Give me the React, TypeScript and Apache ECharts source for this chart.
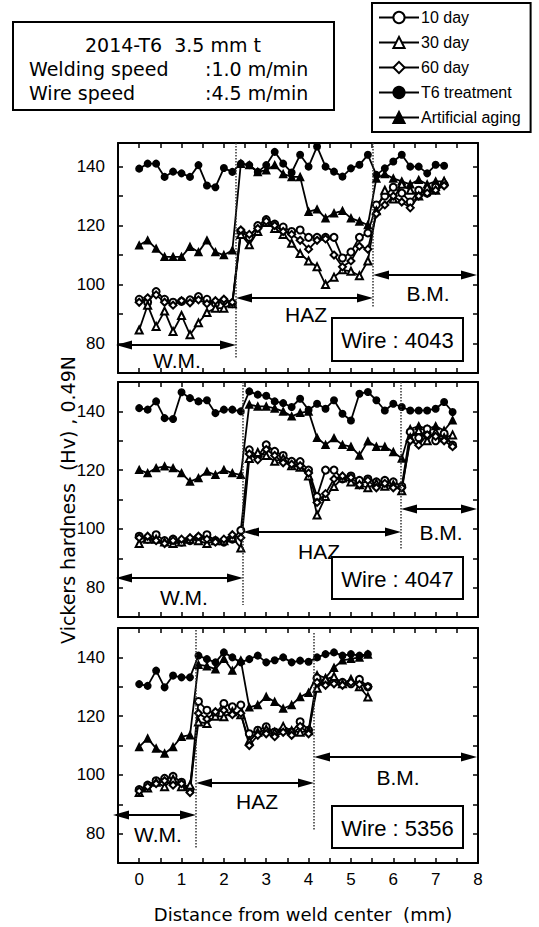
import React, { useEffect, useRef } from 'react';
import * as echarts from 'echarts';

// ---------- DATA ----------
const SERIES_NAMES = ['10 day', '30 day', '60 day', 'T6 treatment', 'Artificial aging'];
const SYMBOLS = ['emptyCircle', 'emptyTriangle', 'emptyDiamond', 'circle', 'triangle'];
const X_TICK_LABELS = ['0', '1', '2', '3', '4', '5', '6', '7', '8'];
const Y_TICK_LABELS = ['80', '100', '120', '140'];
const WIRES = ['Wire : 4043', 'Wire : 4047', 'Wire : 5356'];

// Distance from weld center (mm)
const DIST_P1 = [0, 0.2, 0.4, 0.6, 0.8, 1, 1.2, 1.4, 1.6, 1.8, 2, 2.2, 2.4, 2.6, 2.8, 3, 3.2, 3.4, 3.6, 3.8, 4, 4.2, 4.4, 4.6, 4.8, 5, 5.2, 5.4, 5.6, 5.8, 6, 6.2, 6.4, 6.6, 6.8, 7, 7.2];
const DIST_P2 = [0, 0.2, 0.4, 0.6, 0.8, 1, 1.2, 1.4, 1.6, 1.8, 2, 2.2, 2.4, 2.6, 2.8, 3, 3.2, 3.4, 3.6, 3.8, 4, 4.2, 4.4, 4.6, 4.8, 5, 5.2, 5.4, 5.6, 5.8, 6, 6.2, 6.4, 6.6, 6.8, 7, 7.2, 7.4];
const DIST_P3 = [0, 0.2, 0.4, 0.6, 0.8, 1, 1.2, 1.4, 1.6, 1.8, 2, 2.2, 2.4, 2.6, 2.8, 3, 3.2, 3.4, 3.6, 3.8, 4, 4.2, 4.4, 4.6, 4.8, 5, 5.2, 5.4];

// Wire 4043
const DAY10_P1 = [95, 94, 97.6, 95, 94, 94.3, 94.8, 95.9, 95, 93.5, 94.5, 93.5, 118, 116, 120, 122, 120.5, 119.5, 118, 118.5, 116, 116, 116, 116, 109, 111, 116, 117.5, 127, 130, 133, 131, 128, 132, 131, 133, 134];
const DAY30_P1 = [84.6, 93, 85.8, 91, 84.1, 89.5, 83, 87, 90.5, 92, 92, 93.5, 117, 113.5, 118, 121, 119, 117, 114, 110.5, 108, 106, 100, 102.5, 105, 104.5, 103, 108, 125, 132, 129, 134, 132, 130, 133, 132, 135];
const DAY60_P1 = [94, 95.5, 96.5, 94, 93, 94.5, 93.8, 94.8, 93.5, 94.5, 95, 94, 118.5, 117, 119, 121.5, 120, 118, 117, 115, 112, 115, 115.5, 110, 106, 108, 113, 112, 124, 127, 130, 128, 126, 130, 131, 132, 133.5];
const T6_P1 = [139.3, 141, 141, 136.5, 138.3, 137.7, 136.5, 140.5, 133.6, 133, 139.5, 138.2, 141, 140.5, 138.2, 140.5, 145, 141, 138, 144, 140, 146.8, 140, 138.3, 136.6, 139.4, 140.6, 144, 137.2, 139.4, 141.7, 144, 140, 140, 137.7, 140.6, 140.3];
const AGING_P1 = [113.3, 115, 112.2, 109.4, 109.4, 109.4, 112.8, 111, 115, 111, 110, 111.6, 141, 140.5, 138.2, 138.8, 140.5, 137.5, 136.5, 136.5, 124.7, 125.5, 122.5, 124.2, 125, 122.5, 121.4, 120.2, 136, 137.5, 136, 135, 134, 135.5, 134, 135, 135];

// Wire 4047
const DAY10_P2 = [97.5, 96.5, 98, 96, 96.5, 95.5, 96, 97, 98, 96, 95.5, 96.5, 99.5, 126.9, 124.7, 128.6, 126.4, 125, 123, 122.9, 120, 111, 120, 120, 117, 118, 116.5, 117, 116, 116.5, 116, 114.5, 133, 131, 134, 130, 132.5, 128.5];
const DAY30_P2 = [95, 96.5, 96.5, 95.5, 95, 95.5, 96.5, 96, 95, 96, 96, 97, 93.5, 124, 126, 125, 123, 124, 121.5, 121, 118, 104.7, 111, 114.4, 117.3, 116, 115, 114, 115.5, 114.5, 115, 113, 131, 133.5, 130, 133, 131, 132];
const DAY60_P2 = [97, 97.5, 96, 95, 96, 96.5, 97, 97.5, 96.5, 95.5, 96.5, 98, 97, 125.5, 123.5, 127, 125, 122.5, 122, 121.5, 119, 109, 112, 117, 118, 117.5, 115, 116.5, 114, 115.5, 114, 114, 130, 128.5, 132, 131.5, 130, 128];
const T6_P2 = [141.1, 140.6, 143.4, 137.7, 137.4, 146.5, 144.5, 143.4, 143.8, 139.4, 140.6, 140.6, 140, 146.8, 145.7, 145.3, 143.4, 142.8, 141.5, 144.3, 140.5, 142.6, 140.9, 143.8, 139.2, 136.9, 146, 146.6, 143.8, 140.3, 142.6, 141.5, 140.3, 140.3, 140.3, 140.9, 143.2, 139.8];
const AGING_P2 = [120.1, 119, 120.7, 121.3, 120.7, 119, 116.1, 117.3, 119.5, 118.4, 120.1, 119, 118.4, 142.3, 141.7, 141.7, 141, 140, 138.3, 139.5, 140, 131, 128.6, 130.9, 128.6, 128, 125, 129.8, 128, 128, 126.2, 124, 134, 135, 134, 135, 133.5, 137];

// Wire 5356
const DAY10_P3 = [95, 96.5, 98, 98.8, 99.5, 97.5, 95, 125, 122, 120.9, 124.3, 123.2, 123.8, 114, 115.2, 116.4, 114.6, 115.2, 114.6, 118.1, 115.2, 133, 131.5, 132, 131.5, 131, 132.5, 130];
const DAY30_P3 = [94, 95.5, 97.5, 96, 98.5, 96, 96.5, 118, 117.5, 120, 119.8, 121.5, 120.5, 111.5, 114.5, 115.5, 114.5, 116.5, 115, 114.5, 115, 129.5, 132.5, 133.5, 131, 132.5, 130, 126.5];
const DAY60_P3 = [94.5, 96, 97, 98, 96.5, 97, 94, 121, 119, 121.5, 122, 120.5, 121, 110, 113.5, 114, 113, 114.5, 113.5, 116.5, 114, 131.5, 130.5, 131, 130.5, 131.5, 130.8, 130];
const T6_P3 = [130.9, 130.3, 135.5, 129.8, 133.8, 133.2, 133.2, 140.6, 139.4, 138.3, 141.7, 140, 138.3, 139.4, 140.6, 138.3, 139, 140, 138.3, 138.9, 138.5, 140, 141.1, 141.7, 140.6, 141.1, 140.6, 141.1];
const AGING_P3 = [109.5, 112.4, 109, 107.3, 109.5, 113, 113.5, 137.5, 137, 136, 139.5, 135.5, 139, 123, 123.8, 126.6, 124.9, 122.6, 123.8, 126.5, 128, 134, 133, 136.5, 139, 139.5, 140, 141];

// ---------- LAYOUT ----------
const FONT = '"Liberation Sans", Arial, Helvetica, sans-serif';
const WIDE = '"DejaVu Sans", "Liberation Sans", Arial, sans-serif';
const GRID_LEFT = 118;
const GRID_W = 360;
const X_MIN = -0.5;
const X_MAX = 8;

const PANELS = [
  { top: 143, height: 230, min: 70, max: 148, dist: DIST_P1, values: [DAY10_P1, DAY30_P1, DAY60_P1, T6_P1, AGING_P1],
    bounds: [236, 373], dashEnd: [358, 308], dashStart: [143, 143],
    wm: { y: 345, x1: 116, x2: 236, lx: 177, ly: 360 },
    haz: { y: 298, x1: 236, x2: 373, lx: 306, ly: 314 },
    bm: { y: 275, x1: 373, x2: 477, lx: 428, ly: 293 },
    box: { x: 332, y: 318, w: 131, h: 43 } },
  { top: 382, height: 235, min: 70, max: 150, dist: DIST_P2, values: [DAY10_P2, DAY30_P2, DAY60_P2, T6_P2, AGING_P2],
    bounds: [243, 401], dashEnd: [605, 549], dashStart: [382, 382],
    wm: { y: 578, x1: 116, x2: 243, lx: 184, ly: 597 },
    haz: { y: 532, x1: 243, x2: 401, lx: 319, ly: 551 },
    bm: { y: 509, x1: 401, x2: 477, lx: 441, ly: 532 },
    box: { x: 332, y: 557, w: 131, h: 42 } },
  { top: 628, height: 235, min: 70, max: 150, dist: DIST_P3, values: [DAY10_P3, DAY30_P3, DAY60_P3, T6_P3, AGING_P3],
    bounds: [196, 314], dashEnd: [849, 830], dashStart: [630, 633],
    wm: { y: 815, x1: 113, x2: 196, lx: 158, ly: 834 },
    haz: { y: 783, x1: 196, x2: 314, lx: 257, ly: 801 },
    bm: { y: 757, x1: 314, x2: 477, lx: 398, ly: 777 },
    box: { x: 332, y: 806, w: 131, h: 42 } },
];

function arrow(x1: number, x2: number, y: number) {
  const L = 16, h = 4.5;
  return [
    { type: 'line', shape: { x1: x1 + 6, y1: y, x2: x2 - 6, y2: y }, style: { stroke: '#000', lineWidth: 2 }, z: 10 },
    { type: 'polygon', shape: { points: [[x1, y], [x1 + L, y - h], [x1 + L, y + h]] }, style: { fill: '#000' }, z: 10 },
    { type: 'polygon', shape: { points: [[x2, y], [x2 - L, y - h], [x2 - L, y + h]] }, style: { fill: '#000' }, z: 10 },
  ];
}

function label(text: string, x: number, y: number, size: number, family: string = FONT) {
  return { type: 'text', x, y, z: 10, style: { text, fill: '#000', font: `${size}px ${family}`, align: 'center', verticalAlign: 'middle' } };
}

export default function App() {
  const ref = useRef<HTMLDivElement>(null);
  useEffect(() => {
    if (!ref.current) return;
    const chart = echarts.init(ref.current, undefined, { renderer: 'svg' });

    const grids: any[] = [];
    const xAxes: any[] = [];
    const yAxes: any[] = [];
    const series: any[] = [];
    const graphics: any[] = [];

    const axisLine = { show: true, onZero: false, lineStyle: { color: '#000', width: 2 } };
    const axisTick = { show: true, inside: true, length: 5, lineStyle: { color: '#000', width: 1.5 } };

    PANELS.forEach((p, i) => {
      grids.push({ left: GRID_LEFT, top: p.top, width: GRID_W, height: p.height, containLabel: false });
      const xBase = { type: 'value', gridIndex: i, min: X_MIN, max: X_MAX, interval: 0.5, axisLine, axisTick, splitLine: { show: false } };
      xAxes.push({
        ...xBase, position: 'bottom',
        axisLabel: {
          show: i === 2, color: '#000', fontSize: 17, fontFamily: FONT, margin: 8,
          formatter: (v: number) => {
            const r = Math.round(v);
            return Math.abs(v - r) < 1e-6 && X_TICK_LABELS.includes(String(r)) ? String(r) : '';
          },
        },
      });
      xAxes.push({ ...xBase, position: 'top', axisLabel: { show: false } });
      const yBase = { type: 'value', gridIndex: i, min: p.min, max: p.max, interval: 10, axisLine, axisTick, splitLine: { show: false } };
      yAxes.push({
        ...yBase, position: 'left',
        axisLabel: {
          color: '#000', fontSize: 17, fontFamily: FONT, margin: 13,
          formatter: (v: number) => (Y_TICK_LABELS.includes(String(Math.round(v))) && Math.abs(v - Math.round(v)) < 1e-6 ? String(Math.round(v)) : ''),
        },
      });
      yAxes.push({ ...yBase, position: 'right', axisLabel: { show: false } });

      SERIES_NAMES.forEach((name, k) => {
        const vals = p.values[k];
        series.push({
          name,
          type: 'line',
          xAxisIndex: 2 * i,
          yAxisIndex: 2 * i,
          data: vals.map((v, j) => [p.dist[j], v]),
          symbol: SYMBOLS[k],
          symbolSize: k === 3 ? 6.5 : 7,
          showAllSymbol: true,
          lineStyle: { color: '#000', width: 1.8 },
          itemStyle: { color: '#000', borderColor: '#000', borderWidth: 1.5 },
          z: k < 3 ? 4 : 3,
        });
      });

      // boundary dotted lines
      p.bounds.forEach((bx, b) => {
        graphics.push({ type: 'line', z: 9, shape: { x1: bx, y1: p.dashStart[b], x2: bx, y2: p.dashEnd[b] }, style: { stroke: '#333', lineWidth: 1.5, lineDash: [1.5, 1.5] } });
      });
      graphics.push(...arrow(p.wm.x1, p.wm.x2, p.wm.y));
      graphics.push(...arrow(p.haz.x1, p.haz.x2, p.haz.y));
      graphics.push(...arrow(p.bm.x1, p.bm.x2, p.bm.y));
      graphics.push(label('W.M.', p.wm.lx, p.wm.ly, 21));
      graphics.push(label('HAZ', p.haz.lx, p.haz.ly, 21));
      graphics.push(label('B.M.', p.bm.lx, p.bm.ly, 21));
      graphics.push({ type: 'rect', z: 10, shape: { x: p.box.x, y: p.box.y, width: p.box.w, height: p.box.h }, style: { fill: '#fff', stroke: '#000', lineWidth: 2 } });
      graphics.push({ ...label(WIRES[i], p.box.x + p.box.w / 2, p.box.y + p.box.h / 2 + 1, 22), z: 11 });
    });

    // info box
    graphics.push({ type: 'rect', shape: { x: 13, y: 22, width: 321, height: 88 }, style: { fill: 'none', stroke: '#000', lineWidth: 2 } });
    graphics.push(label('2014-T6  3.5 mm t', 173, 45, 19, WIDE));
    const leftText = (text: string, x: number, y: number) => ({ type: 'text', x, y, style: { text, fill: '#000', font: `19px ${WIDE}`, align: 'left', verticalAlign: 'middle' } });
    graphics.push(leftText('Welding speed', 29, 69));
    graphics.push(leftText(':1.0 m/min', 205, 69));
    graphics.push(leftText('Wire speed', 29, 93));
    graphics.push(leftText(':4.5 m/min', 205, 93));

    // axis titles
    graphics.push({ type: 'text', x: 68, y: 500, rotation: Math.PI / 2, style: { text: 'Vickers hardness  (Hv) , 0.49N', fill: '#000', font: `19px ${WIDE}`, align: 'center', verticalAlign: 'middle' } });
    graphics.push(label('Distance from weld center  (mm)', 303, 914, 18, WIDE));

    chart.setOption({
      animation: false,
      backgroundColor: '#fff',
      grid: grids,
      xAxis: xAxes,
      yAxis: yAxes,
      series,
      legend: {
        data: SERIES_NAMES,
        orient: 'vertical',
        left: 372,
        top: 3,
        padding: [6, 10, 6, 6],
        itemGap: 8,
        itemWidth: 40,
        itemHeight: 14,
        borderColor: '#000',
        borderWidth: 2,
        selectedMode: false,
        lineStyle: { width: 2 },
        textStyle: { color: '#000', fontSize: 16, fontFamily: FONT, lineHeight: 17, padding: [0, 0, 0, -3] },
      },
      graphic: graphics,
    });
    return () => chart.dispose();
  }, []);
  return <div ref={ref} style={{ position: 'absolute', left: 0, top: 0, width: 539, height: 927 }} />;
}
